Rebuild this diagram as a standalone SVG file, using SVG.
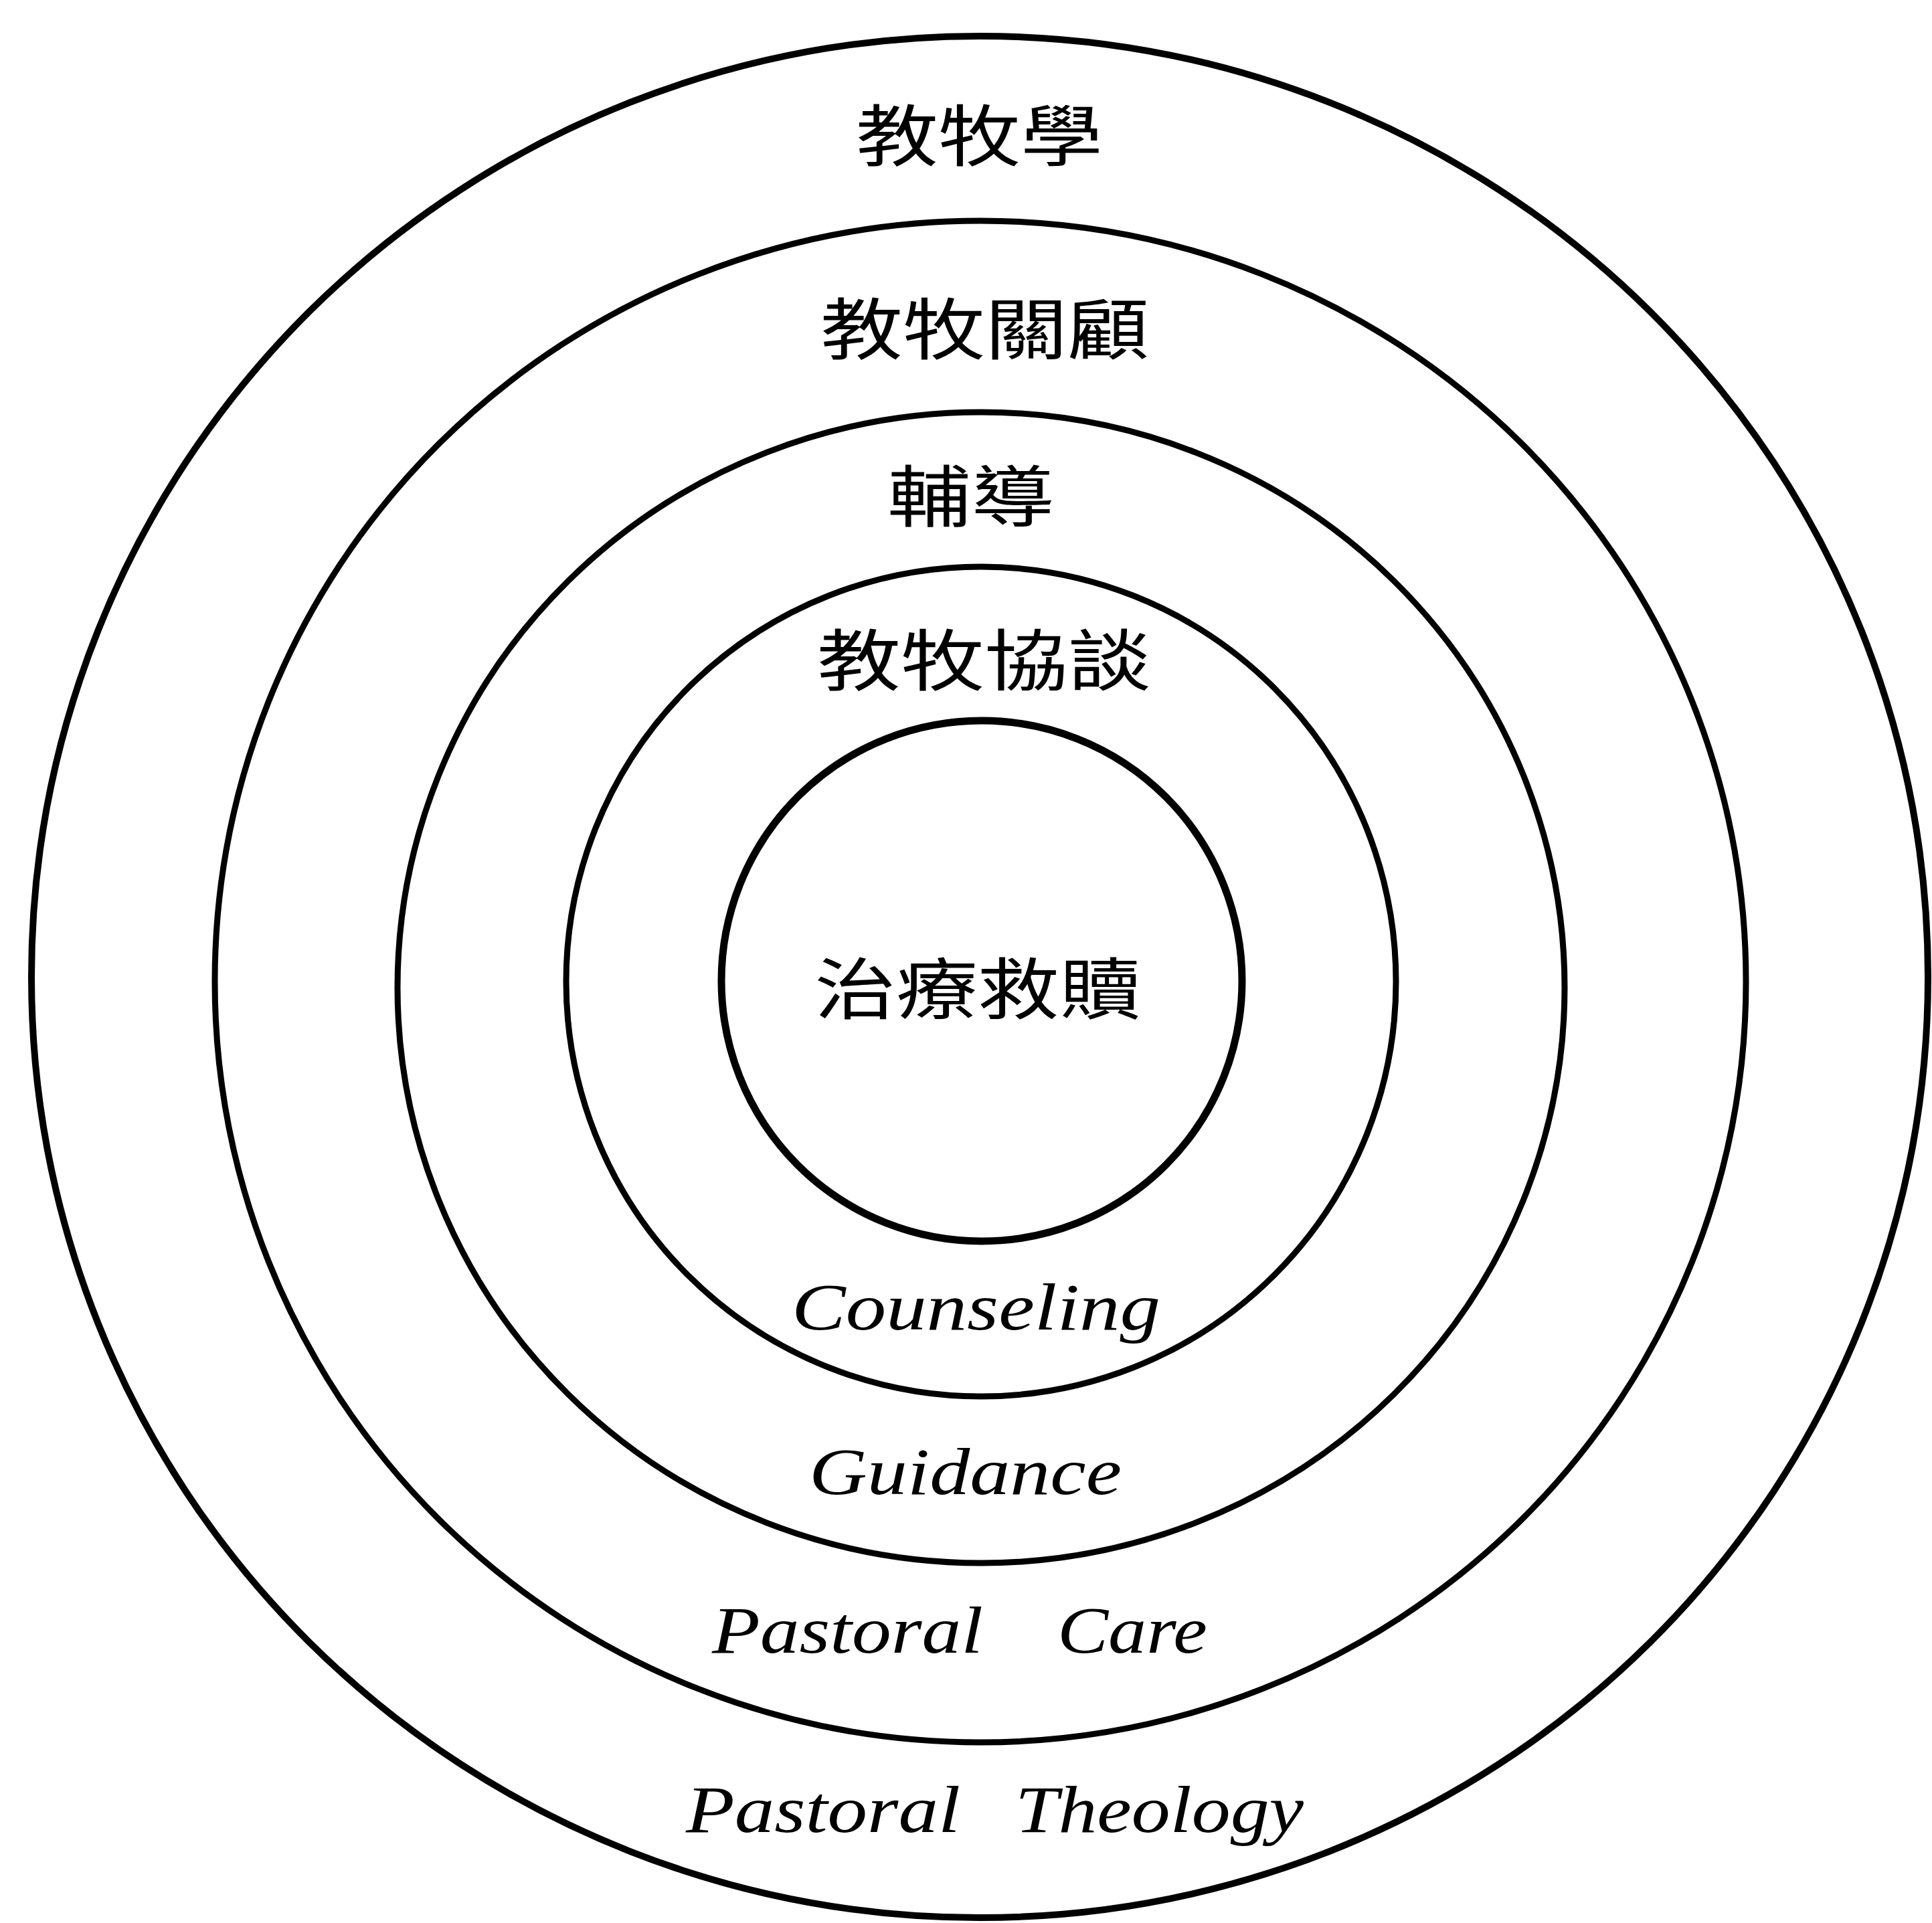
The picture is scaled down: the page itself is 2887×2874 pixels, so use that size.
<svg xmlns="http://www.w3.org/2000/svg" width="2887" height="2874" viewBox="0 0 2887 2874">
<style>
.ring{fill:none;stroke:#000;}
.zh{font-family:"Noto Sans CJK TC","Noto Sans CJK SC",sans-serif;font-size:100px;fill:#000;}
.en{font-family:"Liberation Serif","Times New Roman",serif;font-style:italic;font-size:100px;fill:#000;}
</style>
<rect width="2887" height="2874" fill="#fff"/>
<g id="ring-pastoral-theology">
<ellipse class="ring" cx="1464" cy="1460" rx="1417" ry="1406" stroke-width="10"/>
<text class="zh" x="1279" y="240" textLength="369" lengthAdjust="spacingAndGlyphs">教牧學</text>
<text class="en" y="2738"><tspan x="1025" textLength="410" lengthAdjust="spacingAndGlyphs">Pastoral</tspan> <tspan x="1517" textLength="431" lengthAdjust="spacingAndGlyphs">Theology</tspan></text>
</g>
<g id="ring-pastoral-care">
<ellipse class="ring" cx="1465" cy="1467" rx="1144" ry="1137" stroke-width="9"/>
<text class="zh" x="1226" y="529" textLength="492" lengthAdjust="spacingAndGlyphs">教牧關顧</text>
<text class="en" y="2470"><tspan x="1064" textLength="405" lengthAdjust="spacingAndGlyphs">Pastoral</tspan> <tspan x="1580" textLength="224" lengthAdjust="spacingAndGlyphs">Care</tspan></text>
</g>
<g id="ring-guidance">
<ellipse class="ring" cx="1466" cy="1476" rx="872" ry="860" stroke-width="9"/>
<text class="zh" x="1326" y="779" textLength="250" lengthAdjust="spacingAndGlyphs">輔導</text>
<text class="en" x="1209" y="2233" textLength="467" lengthAdjust="spacingAndGlyphs">Guidance</text>
</g>
<g id="ring-counseling">
<ellipse class="ring" cx="1466" cy="1467" rx="620" ry="620" stroke-width="9"/>
<text class="zh" x="1221" y="1024" textLength="500" lengthAdjust="spacingAndGlyphs">教牧協談</text>
<text class="en" x="1183" y="1987" textLength="551" lengthAdjust="spacingAndGlyphs">Counseling</text>
</g>
<g id="core-healing-redemption">
<ellipse class="ring" cx="1467" cy="1466" rx="389" ry="389" stroke-width="11"/>
<text class="zh" x="1217" y="1515" textLength="488" lengthAdjust="spacingAndGlyphs">治療救贖</text>
</g>
<g id="connectors"/>
</svg>
